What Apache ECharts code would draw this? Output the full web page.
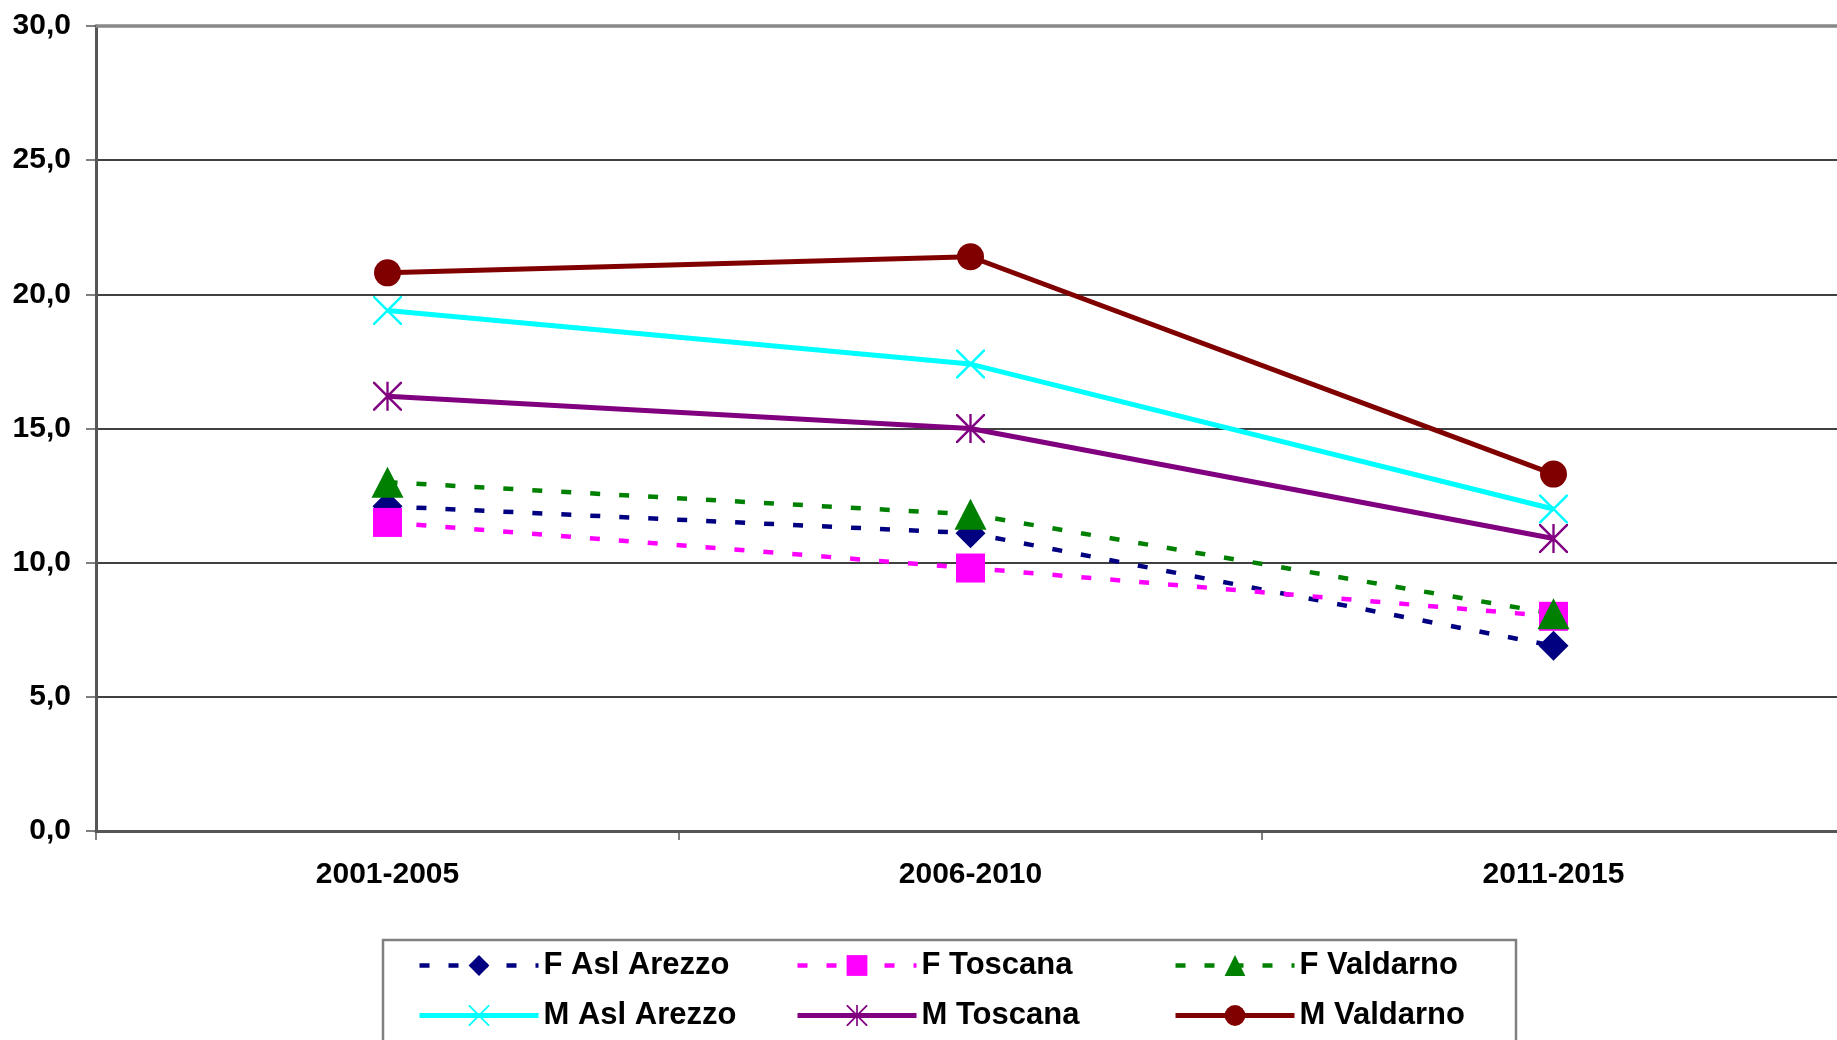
<!DOCTYPE html>
<html>
<head>
<meta charset="utf-8">
<script src="https://cdn.jsdelivr.net/npm/echarts@6/dist/echarts.min.js"></script>
<style>
  html, body { margin: 0; padding: 0; background: #ffffff; }
  #chart { width: 1837px; height: 1040px; }
</style>
</head>
<body>
<div id="chart"></div>
<script>
// Periods on the category axis
const periods = ['2001-2005', '2006-2010', '2011-2015'];

// Value axis range and step
const yMin = 0;
const yMax = 30;
const yStep = 5;

// Rates per period
const fAslArezzo = [12.1, 11.1, 6.9];
const fToscana   = [11.5, 9.8, 8.0];
const fValdarno  = [13.0, 11.8, 8.1];
const mAslArezzo = [19.4, 17.4, 12.0];
const mToscana   = [16.2, 15.0, 10.9];
const mValdarno  = [20.8, 21.4, 13.3];

const FONT = "'Liberation Sans', Arial, Helvetica, sans-serif";

// Marker shapes drawn as filled outlines
const crossPath = 'path://M0,0 L0.6,0 L10,9.4 L10,10 L9.4,10 L0,0.6 Z M10,0 L10,0.6 L0.6,10 L0,10 L0,9.4 L9.4,0 Z';
const starPath  = 'path://M0,0 L0.6,0 L10,9.4 L10,10 L9.4,10 L0,0.6 Z M10,0 L10,0.6 L0.6,10 L0,10 L0,9.4 L9.4,0 Z M4.6,0 L5.4,0 L5.4,10 L4.6,10 Z';

const dashed = [10, 19];

function femaleSeries(name, data, color, symbol, size) {
  return {
    name, type: 'line', data,
    symbol, symbolSize: size,
    itemStyle: { color },
    lineStyle: { color, width: 4.5, type: dashed, cap: 'butt' },
    z: 2
  };
}
function maleSeries(name, data, color, symbol, size) {
  return {
    name, type: 'line', data,
    symbol, symbolSize: size,
    itemStyle: { color },
    lineStyle: { color, width: 5, type: 'solid' },
    z: 2
  };
}

const chart = echarts.init(document.getElementById('chart'), null, { renderer: 'canvas' });

const legendBase = {
  orient: 'vertical',
  top: 950,
  itemWidth: 119,
  itemHeight: 26,
  itemGap: 19,
  padding: 0,
  selectedMode: false,
  lineStyle: { width: 'inherit', type: 'inherit' },
  textStyle: { fontSize: 31, fontWeight: 'bold', color: '#000', fontFamily: FONT }
};

chart.setOption({
  animation: false,
  backgroundColor: '#ffffff',
  textStyle: { fontFamily: FONT },
  grid: { left: 96, top: 26, width: 1749, height: 805, containLabel: false, outerBoundsMode: 'none' },
  legend: [
    Object.assign({}, legendBase, { left: 417, data: ['F Asl Arezzo', 'M Asl Arezzo'] }),
    Object.assign({}, legendBase, { left: 795, data: ['F Toscana', 'M Toscana'] }),
    Object.assign({}, legendBase, { left: 1173, data: ['F Valdarno', 'M Valdarno'] })
  ],
  graphic: [{
    type: 'rect',
    z: -1,
    shape: { x: 383, y: 940, width: 1133, height: 200 },
    style: { fill: '#ffffff', stroke: '#808080', lineWidth: 2.5 }
  }],
  xAxis: [{
    type: 'category',
    data: periods,
    boundaryGap: true,
    axisLine: { show: true, lineStyle: { color: '#555555', width: 3 } },
    axisTick: { show: true, length: 9, lineStyle: { color: '#555555', width: 1.5 } },
    axisLabel: { margin: 29, fontSize: 30, fontWeight: 'bold', color: '#000', fontFamily: FONT },
    splitLine: { show: false }
  }, {
    type: 'category',
    data: periods,
    position: 'top',
    boundaryGap: true,
    axisLine: { show: true, lineStyle: { color: '#888888', width: 3.5 } },
    axisTick: { show: false },
    axisLabel: { show: false },
    splitLine: { show: false }
  }],
  yAxis: {
    type: 'value',
    min: yMin, max: yMax, interval: yStep,
    axisLine: { show: true, lineStyle: { color: '#555555', width: 3 } },
    axisTick: { show: true, length: 10, lineStyle: { color: '#555555', width: 1.5 } },
    axisLabel: {
      margin: 25, fontSize: 30, fontWeight: 'bold', color: '#000', fontFamily: FONT,
      formatter: v => v.toFixed(1).replace('.', ',')
    },
    splitLine: { show: true, showMaxLine: false, lineStyle: { color: '#000000', width: 1.5 } }
  },
  series: [
    femaleSeries('F Asl Arezzo', fAslArezzo, '#000080', 'diamond', 30),
    femaleSeries('F Toscana',   fToscana,   '#FF00FF', 'rect', 29),
    femaleSeries('F Valdarno',  fValdarno,  '#008000', 'triangle', [32, 31]),
    maleSeries('M Asl Arezzo',  mAslArezzo, '#00FFFF', crossPath, 29),
    maleSeries('M Toscana',     mToscana,   '#800080', starPath, 29),
    maleSeries('M Valdarno',    mValdarno,  '#800000', 'circle', 27)
  ]
});
</script>
</body>
</html>
